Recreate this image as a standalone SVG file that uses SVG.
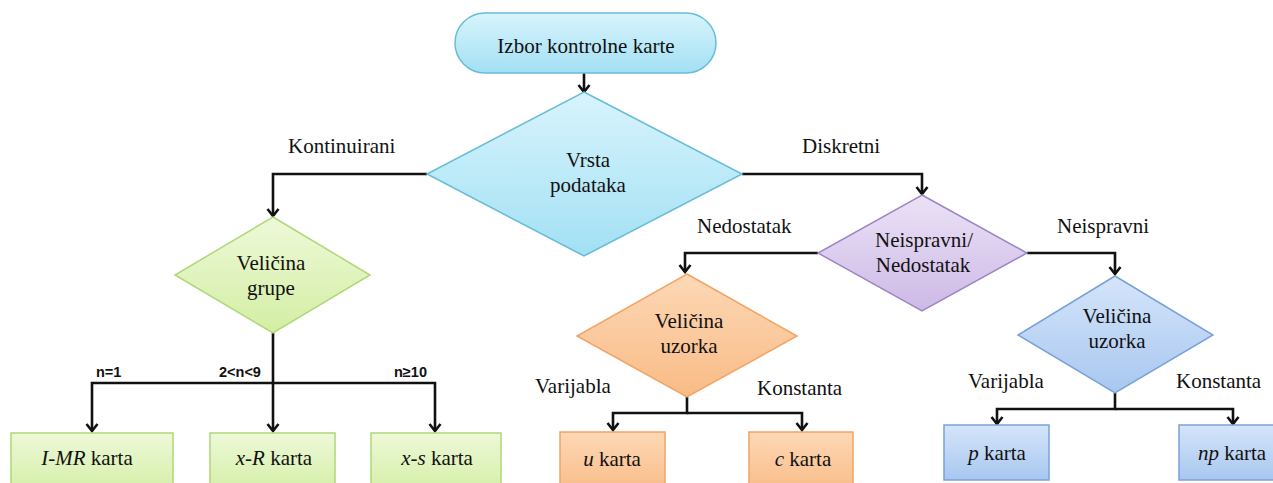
<svg xmlns="http://www.w3.org/2000/svg" width="1273" height="483" viewBox="0 0 1273 483">
<style>
.t{font-family:'Liberation Serif','Times New Roman',Times,serif;font-size:21px;fill:#111}
.c{text-anchor:middle}
.i{font-style:italic}
.lb{font-family:'Liberation Sans',Arial,sans-serif;font-size:14.5px;font-weight:bold;fill:#111}
.cn{fill:none;stroke:#111;stroke-width:2.6;marker-end:url(#ah)}
.cy{fill:url(#gCy);stroke:#68bcd6;stroke-width:1.5}
.gr{fill:url(#gGr);stroke:#b0d67a;stroke-width:1.5}
.pu{fill:url(#gPu);stroke:#9d86c4;stroke-width:1.5}
.or{fill:url(#gOr);stroke:#f0a465;stroke-width:1.5}
.bl{fill:url(#gBl);stroke:#7aa2d8;stroke-width:1.5}
</style>
<defs>
<linearGradient id="gCy" x1="0" y1="0" x2="0" y2="1"><stop offset="0" stop-color="#d8f4fc"/><stop offset="1" stop-color="#a2e0f4"/></linearGradient>
<linearGradient id="gGr" x1="0" y1="0" x2="0" y2="1"><stop offset="0" stop-color="#eef9d8"/><stop offset="1" stop-color="#d3eea4"/></linearGradient>
<linearGradient id="gPu" x1="0" y1="0" x2="0" y2="1"><stop offset="0" stop-color="#ebe2f6"/><stop offset="1" stop-color="#cdb9e6"/></linearGradient>
<linearGradient id="gOr" x1="0" y1="0" x2="0" y2="1"><stop offset="0" stop-color="#fdd8b6"/><stop offset="1" stop-color="#f9bb86"/></linearGradient>
<linearGradient id="gBl" x1="0" y1="0" x2="0" y2="1"><stop offset="0" stop-color="#d5e5fa"/><stop offset="1" stop-color="#a8c7f0"/></linearGradient>
<marker id="ah" viewBox="-10 -7 12 14" refX="0" refY="0" markerWidth="12" markerHeight="14" markerUnits="userSpaceOnUse" orient="auto">
<path d="M-7,-5.5 L0,0 L-7,5.5" fill="none" stroke="#111" stroke-width="2.6"/>
</marker>
</defs>

<g id="connectors">
<path class="cn" d="M584,73 V92"/>
<path class="cn" d="M427,174 H273 V216"/>
<path class="cn" d="M742,174 H922 V194"/>
<path class="cn" d="M273,333 V383 H92 V431"/>
<path class="cn" d="M273,383 H435 V431"/>
<path class="cn" d="M273,383 V431"/>
<path class="cn" d="M818,253 H685 V272"/>
<path class="cn" d="M1027,253 H1115 V274"/>
<path class="cn" d="M687,397 V413 H613 V430"/>
<path class="cn" d="M687,413 H802 V430"/>
<path class="cn" d="M1115,393 V409 H997 V424"/>
<path class="cn" d="M1115,409 H1233 V424"/>
<text class="t" x="288" y="153">Kontinuirani</text>
<text class="t" x="802" y="153">Diskretni</text>
<text class="lb" x="96" y="377">n=1</text>
<text class="lb" x="219" y="377">2&lt;n&lt;9</text>
<text class="lb" x="394" y="377">n≥10</text>
<text class="t" x="697" y="233">Nedostatak</text>
<text class="t" x="1057" y="233">Neispravni</text>
<text class="t" x="535" y="393">Varijabla</text>
<text class="t" x="757" y="395">Konstanta</text>
<text class="t" x="968" y="388">Varijabla</text>
<text class="t" x="1176" y="388">Konstanta</text>
</g>

<g id="start">
<rect class="cy" x="455" y="13" width="261" height="60" rx="30"/>
<text class="t c" x="586" y="53">Izbor kontrolne karte</text>
</g>

<g id="vrsta">
<polygon class="cy" points="584,92 742,174 584,256 427,174"/>
<text class="t c" x="588" y="167">Vrsta</text>
<text class="t c" x="588" y="192">podataka</text>
</g>

<g id="velicina-grupe">
<polygon class="gr" points="273,217 370,275 273,333 175,275"/>
<text class="t c" x="271" y="270">Veličina</text>
<text class="t c" x="271" y="295">grupe</text>
</g>

<g id="imr">
<rect class="gr" x="11" y="433" width="162" height="62"/>
<text class="t c" x="87" y="465"><tspan class="i">I-MR</tspan> karta</text>
</g>
<g id="xr">
<rect class="gr" x="210" y="433" width="125" height="62"/>
<text class="t c" x="274" y="465"><tspan class="i">x-R</tspan> karta</text>
</g>
<g id="xs">
<rect class="gr" x="371" y="433" width="130" height="62"/>
<text class="t c" x="437" y="465"><tspan class="i">x-s</tspan> karta</text>
</g>

<g id="neispravni-nedostatak">
<polygon class="pu" points="922,195 1027,253 922,311 818,253"/>
<text class="t c" x="924" y="247">Neispravni/</text>
<text class="t c" x="923" y="272">Nedostatak</text>
</g>

<g id="velicina-uzorka-o">
<polygon class="or" points="687,274 797,336 687,397 577,336"/>
<text class="t c" x="689" y="328">Veličina</text>
<text class="t c" x="689" y="353">uzorka</text>
</g>
<g id="u">
<rect class="or" x="560" y="432" width="105" height="62"/>
<text class="t c" x="612" y="466"><tspan class="i">u</tspan> karta</text>
</g>
<g id="c">
<rect class="or" x="749" y="432" width="104" height="62"/>
<text class="t c" x="803" y="466"><tspan class="i">c</tspan> karta</text>
</g>

<g id="velicina-uzorka-b">
<polygon class="bl" points="1115,276 1213,335 1115,393 1018,335"/>
<text class="t c" x="1117" y="323">Veličina</text>
<text class="t c" x="1117" y="348">uzorka</text>
</g>
<g id="p">
<rect class="bl" x="944" y="425" width="105" height="55"/>
<text class="t c" x="997" y="460"><tspan class="i">p</tspan> karta</text>
</g>
<g id="np">
<rect class="bl" x="1179" y="425" width="110" height="55"/>
<text class="t c" x="1232" y="460"><tspan class="i">np</tspan> karta</text>
</g>
</svg>
